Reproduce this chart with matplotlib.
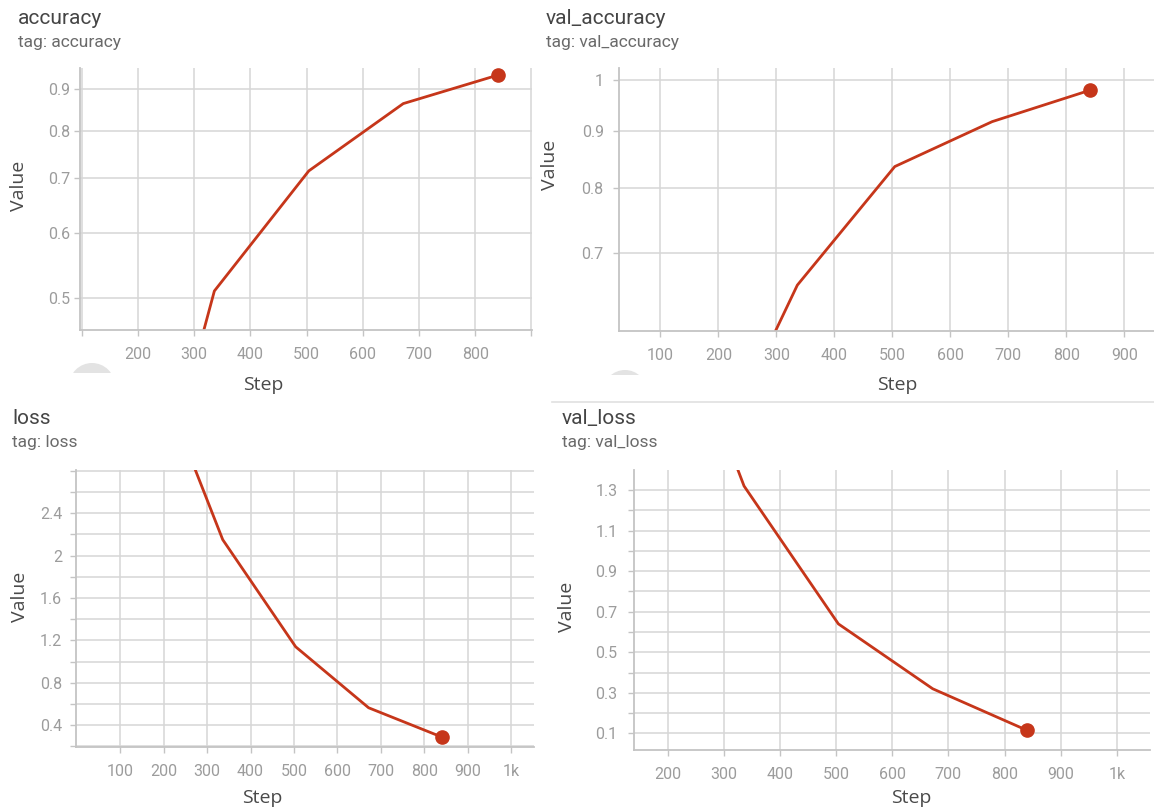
import matplotlib
matplotlib.use('Agg')
import matplotlib.pyplot as plt
from matplotlib.ticker import FixedLocator, NullLocator, FuncFormatter
from matplotlib.patches import Circle, Rectangle

# ---------------- data ----------------
steps = [168, 336, 504, 672, 840]
accuracy = [0.19, 0.51, 0.715, 0.864, 0.936]
val_accuracy = [0.43, 0.655, 0.836, 0.917, 0.978]
loss = [3.9, 2.15, 1.14, 0.565, 0.29]
val_loss = [2.54, 1.32, 0.64, 0.32, 0.115]

titles = ['accuracy', 'val_accuracy', 'loss', 'val_loss']
tags = ['tag: accuracy', 'tag: val_accuracy', 'tag: loss', 'tag: val_loss']

acc_xticks = [100, 200, 300, 400, 500, 600, 700, 800, 900]
acc_xlabels = ['', '200', '300', '400', '500', '600', '700', '800', '']
acc_yticks = [0.5, 0.6, 0.7, 0.8, 0.9]
acc_ylabels = ['0.5', '0.6', '0.7', '0.8', '0.9']

vacc_xticks = [100, 200, 300, 400, 500, 600, 700, 800, 900]
vacc_xlabels = ['100', '200', '300', '400', '500', '600', '700', '800', '900']
vacc_yticks = [0.7, 0.8, 0.9, 1.0]
vacc_ylabels = ['0.7', '0.8', '0.9', '1']

loss_xticks = [100, 200, 300, 400, 500, 600, 700, 800, 900, 1000]
loss_xlabels = ['100', '200', '300', '400', '500', '600', '700', '800', '900', '1k']
loss_yticks = [0.2, 0.4, 0.6, 0.8, 1.0, 1.2, 1.4, 1.6, 1.8, 2.0, 2.2, 2.4, 2.6, 2.8]
loss_ylabels = ['', '0.4', '', '0.8', '', '1.2', '', '1.6', '', '2', '', '2.4', '', '']

vloss_xticks = [200, 300, 400, 500, 600, 700, 800, 900, 1000]
vloss_xlabels = ['200', '300', '400', '500', '600', '700', '800', '900', '1k']
vloss_yticks = [0.1, 0.2, 0.3, 0.4, 0.5, 0.6, 0.7, 0.8, 0.9, 1.0, 1.1, 1.2, 1.3, 1.4]
vloss_ylabels = ['0.1', '', '0.3', '', '0.5', '', '0.7', '', '0.9', '', '1.1', '', '1.3', '']

# ---------------- style ----------------
W, H = 1154, 810
LINE = '#c6361a'
GRID = '#d6d6d6'
AXIS = '#c4c4c4'
TICKLBL = '#9c9c9c'
TITLE = '#454545'
TAG = '#6a6a6a'
LABEL = '#4a4a4a'
TFONT = ['Roboto', 'DejaVu Sans']
LFONT = ['Open Sans', 'DejaVu Sans']

fig = plt.figure(figsize=(W / 100, H / 100), dpi=100)
fig.patch.set_facecolor('white')

ov = fig.add_axes([0, 0, 1, 1])
ov.set_xlim(0, W)
ov.set_ylim(H, 0)
ov.axis('off')


def add_ax(l, t, r, b):
    return fig.add_axes([l / W, 1 - b / H, (r - l) / W, (b - t) / H])


def style(ax, xlim, ylim, xt, xl, yt, yl, log=False, ypad=4):
    if log:
        ax.set_yscale('log')
    ax.set_xlim(xlim)
    ax.set_ylim(ylim)
    xmap = dict(zip(xt, xl))
    ymap = dict(zip([round(v, 3) for v in yt], yl))
    ax.xaxis.set_major_locator(FixedLocator(xt))
    ax.yaxis.set_major_locator(FixedLocator(yt))
    ax.xaxis.set_minor_locator(NullLocator())
    ax.yaxis.set_minor_locator(NullLocator())
    ax.xaxis.set_major_formatter(FuncFormatter(lambda v, p: xmap.get(v, '')))
    ax.yaxis.set_major_formatter(FuncFormatter(lambda v, p: ymap.get(round(v, 3), '')))
    ax.grid(True, color=GRID, lw=1.1)
    ax.set_axisbelow(True)
    for s in ['top', 'right']:
        ax.spines[s].set_visible(False)
    for s in ['left', 'bottom']:
        ax.spines[s].set_color(AXIS)
        ax.spines[s].set_linewidth(1.3)
    ax.tick_params(axis='both', length=4, width=1, color=AXIS, labelcolor=TICKLBL,
                   labelsize=11.5)
    ax.tick_params(axis='x', pad=8)
    ax.tick_params(axis='y', pad=ypad)
    for lab in ax.get_xticklabels() + ax.get_yticklabels():
        lab.set_fontfamily(TFONT)


def draw(ax, ys):
    ax.plot(steps, ys, color=LINE, lw=2.0, solid_joinstyle='round', solid_capstyle='round')
    ax.plot(steps[-1], ys[-1], 'o', color=LINE, ms=9.5, clip_on=False, zorder=5)


# top-left: accuracy
ax1 = add_ax(80, 68, 532, 330)
style(ax1, (97, 901), (0.457, 0.955), acc_xticks, acc_xlabels, acc_yticks, acc_ylabels,
      log=True, ypad=3)
draw(ax1, accuracy)

# top-right: val_accuracy
ax2 = add_ax(619, 68, 1154, 331)
style(ax2, (28.5, 951), (0.596, 1.024), vacc_xticks, vacc_xlabels, vacc_yticks, vacc_ylabels,
      log=True, ypad=7)
draw(ax2, val_accuracy)

# bottom-left: loss
ax3 = add_ax(76, 470, 534, 747)
style(ax3, (-2, 1053), (0.195, 2.807), loss_xticks, loss_xlabels, loss_yticks, loss_ylabels,
      ypad=6)
draw(ax3, loss)

# bottom-right: val_loss
ax4 = add_ax(634, 470, 1150, 750)
style(ax4, (140, 1059), (0.018, 1.399), vloss_xticks, vloss_xlabels, vloss_yticks,
      vloss_ylabels, ypad=8)
draw(ax4, val_loss)

# titles
title_pos = [(18, 18), (546, 18), (12, 418), (562, 418)]
tag_pos = [(18, 42), (546, 42), (12, 443), (562, 443)]
for t, g, (tx, ty), (gx, gy) in zip(titles, tags, title_pos, tag_pos):
    ov.text(tx, ty, t, fontsize=15, color=TITLE, family=TFONT, ha='left', va='center')
    ov.text(gx, gy, g, fontsize=12.5, color=TAG, family=TFONT, ha='left', va='center')

# axis labels
for (x, y) in [(19, 186), (550, 165), (20, 597), (567, 607)]:
    ov.text(x, y, 'Value', rotation=90, fontsize=14, color=LABEL, family=LFONT,
            ha='center', va='center')
for (x, y) in [(263, 385), (897, 385), (262, 798), (911, 798)]:
    ov.text(x, y, 'Step', fontsize=14, color=LABEL, family=LFONT, ha='center', va='center')

# decorative pieces of the screenshot (button domes, card separator)
for (cx, cy, r, top, bot) in [(92, 386, 23, 360, 373), (625, 392, 22, 366, 375)]:
    c = Circle((cx, cy), r, color='#e3e3e3', lw=0)
    ov.add_patch(c)
    c.set_clip_path(Rectangle((cx - r - 2, top), 2 * r + 4, bot - top, transform=ov.transData))
ov.plot([552, 1154], [402, 402], color='#e0e0e0', lw=1.2)

fig.savefig('out.png', dpi=100, facecolor='white')
